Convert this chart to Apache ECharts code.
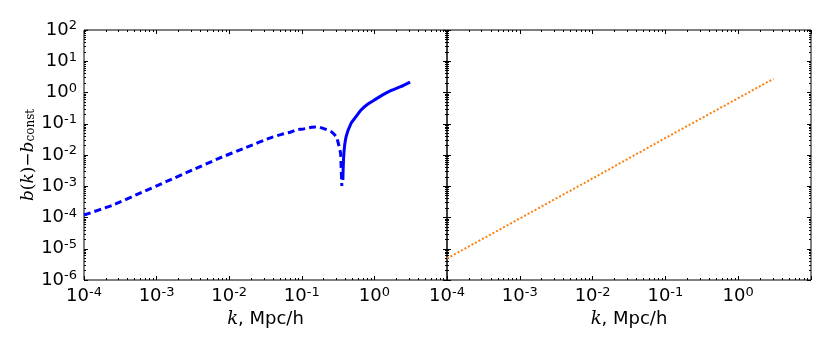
<!DOCTYPE html>
<html>
<head>
<meta charset="utf-8">
<script src="https://cdn.jsdelivr.net/npm/echarts@6/dist/echarts.min.js"></script>
<style>
  html, body { margin: 0; padding: 0; background: #fff; }
  #chart { width: 830px; height: 350px; }
</style>
</head>
<body>
<div id="chart"></div>
<script>
// left panel, b(k) - b_const < 0 part (plotted as |value|, dashed)
const kDashed = [1e-4, 2.5e-4, 5.8e-4, 1.35e-3, 3.1e-3, 7.2e-3, 0.0167, 0.0386, 0.0528, 0.0724, 0.089, 0.099, 0.136, 0.155, 0.177, 0.255, 0.298, 0.314, 0.342, 0.348, 0.356];
const bDashed = [1.2e-4, 2.5e-4, 5.9e-4, 1.4e-3, 3.3e-3, 7.8e-3, 0.0171, 0.0368, 0.0459, 0.0557, 0.066, 0.0664, 0.0769, 0.079, 0.0769, 0.0557, 0.0386, 0.0267, 0.0113, 0.00423, 0.00102];
// left panel, positive part (solid)
const kSolid = [0.368, 0.38, 0.408, 0.477, 0.558, 0.655, 0.807, 1.0, 1.3, 1.68, 2.3, 3.1];
const bSolid = [0.00158, 0.0113, 0.0386, 0.103, 0.168, 0.275, 0.419, 0.575, 0.84, 1.14, 1.53, 2.15];
// right panel, dotted power law
const kPower = [1e-4, 1e-3, 1e-2, 1e-1, 1, 3.05];
const bPower = [4.9e-6, 9.3e-5, 1.78e-3, 3.5e-2, 0.66, 2.75];

const xDecades = [1e-4, 1e-3, 1e-2, 1e-1, 1, 10];
const yDecades = [1e-6, 1e-5, 1e-4, 1e-3, 1e-2, 1e-1, 1, 10, 100];
const xLabelValues = [1e-4, 1e-3, 1e-2, 1e-1, 1];

function minorsOf(decades) {
  const out = [];
  for (let i = 0; i < decades.length - 1; i++) {
    for (let d = 2; d <= 9; d++) out.push(+(decades[i] * d).toPrecision(3));
  }
  return out;
}

const pow10 = v => '{b|10}{s|' + Math.round(Math.log10(v)) + '}';
const richLab = {
  b: { fontFamily: 'DejaVu Sans', fontSize: 18, color: '#000' },
  s: { fontFamily: 'DejaVu Sans', fontSize: 13, color: '#000', verticalAlign: 'top', padding: [0, 0, 8, 0] }
};

function makeAxes(dim, gridIndex, extent, decades, labelValues, withName) {
  const list = [];
  const sides = dim === 'x' ? ['bottom', 'top'] : ['left', 'right'];
  sides.forEach((pos, si) => {
    [true, false].forEach(major => {
      const ax = {
        type: 'log', logBase: 10, gridIndex, position: pos,
        min: extent[0], max: extent[1],
        axisLine: { show: false },
        splitLine: { show: false },
        axisTick: {
          show: true, inside: true, length: major ? 4 : 2,
          customValues: major ? decades : minorsOf(decades),
          lineStyle: { color: '#000', width: 1 }
        },
        axisLabel: { show: false }
      };
      if (major && si === 0 && labelValues) {
        ax.axisLabel = {
          show: true, customValues: labelValues, formatter: pow10, rich: richLab,
          margin: dim === 'x' ? 6 : 7
        };
      }
      if (major && si === 0 && withName) {
        if (dim === 'x') {
          ax.name = '{i|k}{t|, Mpc/h}';
          ax.nameLocation = 'middle';
          ax.nameGap = 27;
          ax.nameTextStyle = { rich: {
            i: { fontFamily: 'DejaVu Serif', fontStyle: 'italic', fontSize: 18, color: '#000' },
            t: { fontFamily: 'DejaVu Sans', fontSize: 18, color: '#000' }
          } };
        } else {
          ax.name = '{i|b}{t|(}{i|k}{t|)\u2212}{i|b}{sub|const}';
          ax.nameLocation = 'middle';
          ax.nameRotate = 90;
          ax.nameGap = 38;
          ax.nameTextStyle = { rich: {
            i: { fontFamily: 'DejaVu Serif', fontStyle: 'italic', fontSize: 17, color: '#000' },
            t: { fontFamily: 'DejaVu Serif', fontSize: 17, color: '#000' },
            sub: { fontFamily: 'DejaVu Serif', fontSize: 12, color: '#000', verticalAlign: 'bottom', padding: [6, 0, 0, 0] }
          } };
        }
      }
      list.push(ax);
    });
  });
  return list;
}

const xExtent = [1e-4, 10];
const yExtent = [1e-6, 100];

const xAxes = [].concat(
  makeAxes('x', 0, xExtent, xDecades, xLabelValues, true),
  makeAxes('x', 1, xExtent, xDecades, xLabelValues, true)
);
const yAxes = [].concat(
  makeAxes('y', 0, yExtent, yDecades, yDecades, true),
  makeAxes('y', 1, yExtent, yDecades, null, false)
);

const zip = (a, b) => a.map((v, i) => [v, b[i]]);

const chart = echarts.init(document.getElementById('chart'), null, { renderer: 'canvas' });
chart.setOption({
  animation: false,
  backgroundColor: '#fff',
  grid: [
    { left: 84, top: 30, width: 363, height: 250, show: true, borderColor: '#000', borderWidth: 1, backgroundColor: 'transparent' },
    { left: 447, top: 30, width: 364, height: 250, show: true, borderColor: '#000', borderWidth: 1, backgroundColor: 'transparent' }
  ],
  xAxis: xAxes,
  yAxis: yAxes,
  series: [
    {
      type: 'line', xAxisIndex: 0, yAxisIndex: 0, data: zip(kDashed, bDashed),
      showSymbol: false, smooth: 0.2,
      lineStyle: { color: '#0000ff', width: 3, type: [7, 4] }
    },
    {
      type: 'line', xAxisIndex: 0, yAxisIndex: 0, data: zip(kSolid, bSolid),
      showSymbol: false, smooth: 0.3,
      lineStyle: { color: '#0000ff', width: 3 }
    },
    {
      type: 'line', xAxisIndex: 4, yAxisIndex: 4, data: zip(kPower, bPower),
      showSymbol: false,
      lineStyle: { color: '#ff7f0e', width: 2, type: [2, 2] }
    }
  ]
});
</script>
</body>
</html>
